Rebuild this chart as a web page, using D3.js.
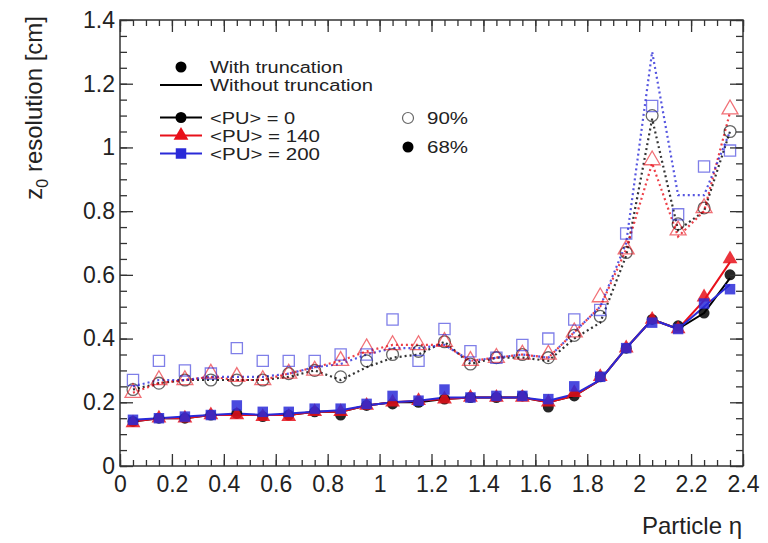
<!DOCTYPE html>
<html>
<head>
<meta charset="utf-8">
<script src="https://cdn.jsdelivr.net/npm/d3@7"></script>
<style>
  html, body { margin: 0; padding: 0; background: #fff; }
  svg { display: block; font-family: "Liberation Sans", Arial, sans-serif; }
</style>
</head>
<body>
<svg id="chart" width="768" height="543"></svg>
<script>
// Pseudorapidity bin centres
const eta = [0.05, 0.15, 0.25, 0.35, 0.45, 0.55, 0.65, 0.75, 0.85, 0.95, 1.05, 1.15,
             1.25, 1.35, 1.45, 1.55, 1.65, 1.75, 1.85, 1.95, 2.05, 2.15, 2.25, 2.35];

// 68% coverage, with truncation (filled markers)
const pu0_68   = [0.14, 0.15, 0.15, 0.16, 0.165, 0.155, 0.16, 0.17, 0.16, 0.19, 0.195, 0.20, 0.21, 0.215, 0.215, 0.22, 0.185, 0.22, 0.28, 0.37, 0.46, 0.44, 0.48, 0.60];
const pu140_68 = [0.135, 0.15, 0.15, 0.16, 0.16, 0.155, 0.155, 0.17, 0.17, 0.19, 0.20, 0.205, 0.21, 0.215, 0.215, 0.215, 0.20, 0.23, 0.28, 0.37, 0.46, 0.43, 0.53, 0.65];
const pu200_68 = [0.145, 0.15, 0.155, 0.16, 0.19, 0.17, 0.17, 0.18, 0.18, 0.195, 0.22, 0.205, 0.24, 0.215, 0.22, 0.22, 0.21, 0.25, 0.28, 0.37, 0.45, 0.43, 0.51, 0.555];

// 68% coverage, without truncation (solid lines)
const pu0_68_nt   = [0.14, 0.15, 0.15, 0.16, 0.16, 0.16, 0.16, 0.17, 0.17, 0.19, 0.20, 0.20, 0.21, 0.215, 0.215, 0.215, 0.20, 0.22, 0.27, 0.37, 0.46, 0.43, 0.48, 0.59];
const pu140_68_nt = [0.14, 0.15, 0.15, 0.16, 0.16, 0.16, 0.16, 0.17, 0.17, 0.19, 0.20, 0.205, 0.21, 0.215, 0.215, 0.215, 0.20, 0.22, 0.27, 0.37, 0.46, 0.43, 0.52, 0.64];
const pu200_68_nt = [0.145, 0.15, 0.155, 0.16, 0.165, 0.16, 0.165, 0.17, 0.175, 0.19, 0.20, 0.205, 0.215, 0.215, 0.215, 0.215, 0.205, 0.225, 0.27, 0.37, 0.46, 0.43, 0.50, 0.57];

// 90% coverage, with truncation (open markers)
const pu0_90   = [0.24, 0.26, 0.27, 0.27, 0.27, 0.27, 0.29, 0.30, 0.28, 0.33, 0.35, 0.36, 0.39, 0.32, 0.34, 0.35, 0.34, 0.41, 0.47, 0.67, 1.10, 0.76, 0.81, 1.05];
const pu140_90 = [0.23, 0.27, 0.27, 0.29, 0.28, 0.27, 0.29, 0.30, 0.33, 0.37, 0.38, 0.38, 0.39, 0.33, 0.34, 0.35, 0.35, 0.42, 0.53, 0.68, 0.96, 0.74, 0.81, 1.12];
const pu200_90 = [0.27, 0.33, 0.30, 0.29, 0.37, 0.33, 0.33, 0.33, 0.35, 0.35, 0.46, 0.33, 0.43, 0.36, 0.34, 0.38, 0.40, 0.46, 0.49, 0.73, 1.13, 0.79, 0.94, 0.99];

// 90% coverage, without truncation (dotted lines)
const pu0_90_nt   = [0.24, 0.26, 0.27, 0.27, 0.27, 0.27, 0.28, 0.30, 0.27, 0.31, 0.34, 0.35, 0.39, 0.32, 0.34, 0.34, 0.33, 0.40, 0.45, 0.66, 1.09, 0.74, 0.80, 1.05];
const pu140_90_nt = [0.23, 0.26, 0.27, 0.28, 0.27, 0.27, 0.29, 0.31, 0.33, 0.36, 0.38, 0.38, 0.38, 0.33, 0.34, 0.35, 0.34, 0.42, 0.50, 0.68, 0.95, 0.72, 0.80, 1.11];
const pu200_90_nt = [0.25, 0.27, 0.27, 0.28, 0.28, 0.28, 0.29, 0.31, 0.32, 0.35, 0.37, 0.37, 0.38, 0.33, 0.34, 0.35, 0.34, 0.42, 0.50, 0.70, 1.30, 0.85, 0.85, 1.05];

const xTicks = [0, 0.2, 0.4, 0.6, 0.8, 1, 1.2, 1.4, 1.6, 1.8, 2, 2.2, 2.4];
const yTicks = [0, 0.2, 0.4, 0.6, 0.8, 1, 1.2, 1.4];
const puLabels = ["<PU> = 0", "<PU> = 140", "<PU> = 200"];

const svg = d3.select("#chart");
const frameL = 120, frameR = 743, frameT = 20, frameB = 466;

const x = d3.scaleLinear().domain([0, 2.4]).range([frameL, frameR]);
const y = d3.scaleLinear().domain([0, 1.4]).range([frameB, frameT]);

const colors = ["#000000", "#e8101a", "#2a2ad8"];
const shapes = [d3.symbolCircle, d3.symbolTriangle, d3.symbolSquare];
const sizes = [95, 95, 110];

const series = [
  { m68: pu0_68,   l68: pu0_68_nt,   m90: pu0_90,   l90: pu0_90_nt },
  { m68: pu140_68, l68: pu140_68_nt, m90: pu140_90, l90: pu140_90_nt },
  { m68: pu200_68, l68: pu200_68_nt, m90: pu200_90, l90: pu200_90_nt }
];

const line = d3.line().x(d => x(d[0])).y(d => y(d[1]));
const pairs = vals => eta.map((e, i) => [e, vals[i]]);

const plot = svg.append("g");

// Lines without truncation: dotted (90%) and solid (68%)
series.forEach((s, k) => {
  plot.append("path").datum(pairs(s.l90))
    .attr("d", line).attr("fill", "none")
    .attr("stroke", colors[k]).attr("stroke-width", 2.2)
    .attr("stroke-dasharray", "2,3").attr("opacity", 0.8);
});
series.forEach((s, k) => {
  plot.append("path").datum(pairs(s.l68))
    .attr("d", line).attr("fill", "none")
    .attr("stroke", colors[k]).attr("stroke-width", 2);
});

// Markers with truncation: open (90%) and filled (68%)
series.forEach((s, k) => {
  plot.append("g").selectAll("path").data(pairs(s.m90)).join("path")
    .attr("transform", d => `translate(${x(d[0])},${y(d[1])})`)
    .attr("d", d3.symbol().type(shapes[k]).size(sizes[k] + 15))
    .attr("fill", "none").attr("stroke", colors[k])
    .attr("stroke-width", 1.3).attr("opacity", 0.6);
});
series.forEach((s, k) => {
  plot.append("g").selectAll("path").data(pairs(s.m68)).join("path")
    .attr("transform", d => `translate(${x(d[0])},${y(d[1])})`)
    .attr("d", d3.symbol().type(shapes[k]).size(sizes[k]))
    .attr("fill", colors[k]).attr("opacity", 0.85);
});

// Frame with inward ticks on all four sides
const axisColor = "#333";
const frame = svg.append("g");
frame.append("rect")
  .attr("x", frameL).attr("y", frameT)
  .attr("width", frameR - frameL).attr("height", frameB - frameT)
  .attr("fill", "none").attr("stroke", axisColor).attr("stroke-width", 1.5);

const xMinor = d3.range(0, 2.4001, 0.05);
const yMinor = d3.range(0, 1.4001, 0.05);

function drawAxis(axis, ticks, len, withLabels) {
  const g = frame.append("g").call(axis.tickValues(ticks).tickSize(len).tickPadding(withLabels ? 8 : 0)
    .tickFormat(withLabels ? d3.format("") : ""));
  g.select(".domain").remove();
  g.selectAll(".tick line").attr("stroke", axisColor).attr("stroke-width", 1.3);
  return g;
}

// bottom
const gxb = drawAxis(d3.axisBottom(x), xTicks, -12, true);
gxb.attr("transform", `translate(0,${frameB})`);
gxb.selectAll(".tick text").attr("font-size", 23).attr("fill", "#222").attr("dy", "1.05em")
  .attr("y", 2);
drawAxis(d3.axisBottom(x), xMinor, -6, false).attr("transform", `translate(0,${frameB})`);
// top
drawAxis(d3.axisTop(x), xTicks, -12, false).attr("transform", `translate(0,${frameT})`);
drawAxis(d3.axisTop(x), xMinor, -6, false).attr("transform", `translate(0,${frameT})`);
// left
const gyl = drawAxis(d3.axisLeft(y), yTicks, -13, true);
gyl.attr("transform", `translate(${frameL},0)`);
gyl.selectAll(".tick text").attr("font-size", 23).attr("fill", "#222").attr("x", -5);
drawAxis(d3.axisLeft(y), yMinor, -7, false).attr("transform", `translate(${frameL},0)`);
// right
drawAxis(d3.axisRight(y), yTicks, -13, false).attr("transform", `translate(${frameR},0)`);
drawAxis(d3.axisRight(y), yMinor, -7, false).attr("transform", `translate(${frameR},0)`);

// Axis titles
const yTitle = svg.append("text")
  .attr("transform", "translate(42,16) rotate(-90)")
  .attr("text-anchor", "end").attr("font-size", 24).attr("fill", "#222");
yTitle.append("tspan").text("z");
yTitle.append("tspan").attr("font-size", 16).attr("dy", 6).text("0");
yTitle.append("tspan").attr("dy", -6).text(" resolution [cm]");

svg.append("text").attr("x", 742).attr("y", 534)
  .attr("text-anchor", "end").attr("font-size", 24).attr("fill", "#222")
  .text("Particle η");

// Legend text: compact rows, stretched to the legend column width
const leg = svg.append("g").attr("font-size", 16).attr("fill", "#222");
function legText(tx, ty, str, len) {
  leg.append("text").attr("x", tx).attr("y", ty)
    .attr("textLength", len).attr("lengthAdjust", "spacingAndGlyphs").text(str);
}

// Legend: truncation style
leg.append("circle").attr("cx", 181).attr("cy", 67).attr("r", 5.5).attr("fill", "#000");
legText(210, 73, "With truncation", 133);
leg.append("line").attr("x1", 160).attr("x2", 202).attr("y1", 85).attr("y2", 85)
  .attr("stroke", "#000").attr("stroke-width", 2);
legText(210, 91, "Without truncation", 163);

// Legend: pile-up scenarios
const puLen = [85, 110, 110];
puLabels.forEach((lab, k) => {
  const yy = 117.5 + k * 18;
  leg.append("line").attr("x1", 160).attr("x2", 202).attr("y1", yy).attr("y2", yy)
    .attr("stroke", colors[k]).attr("stroke-width", 2);
  leg.append("path").attr("transform", `translate(181,${yy})`)
    .attr("d", d3.symbol().type(shapes[k]).size(sizes[k])).attr("fill", colors[k]);
  legText(210, yy + 6, lab, puLen[k]);
});

// Legend: coverage
leg.append("circle").attr("cx", 408).attr("cy", 118).attr("r", 5.5)
  .attr("fill", "none").attr("stroke", "#000").attr("stroke-width", 1.2).attr("opacity", 0.6);
legText(427, 124, "90%", 41);
leg.append("circle").attr("cx", 408).attr("cy", 147).attr("r", 5.5).attr("fill", "#000");
legText(427, 153, "68%", 41);
</script>
</body>
</html>
